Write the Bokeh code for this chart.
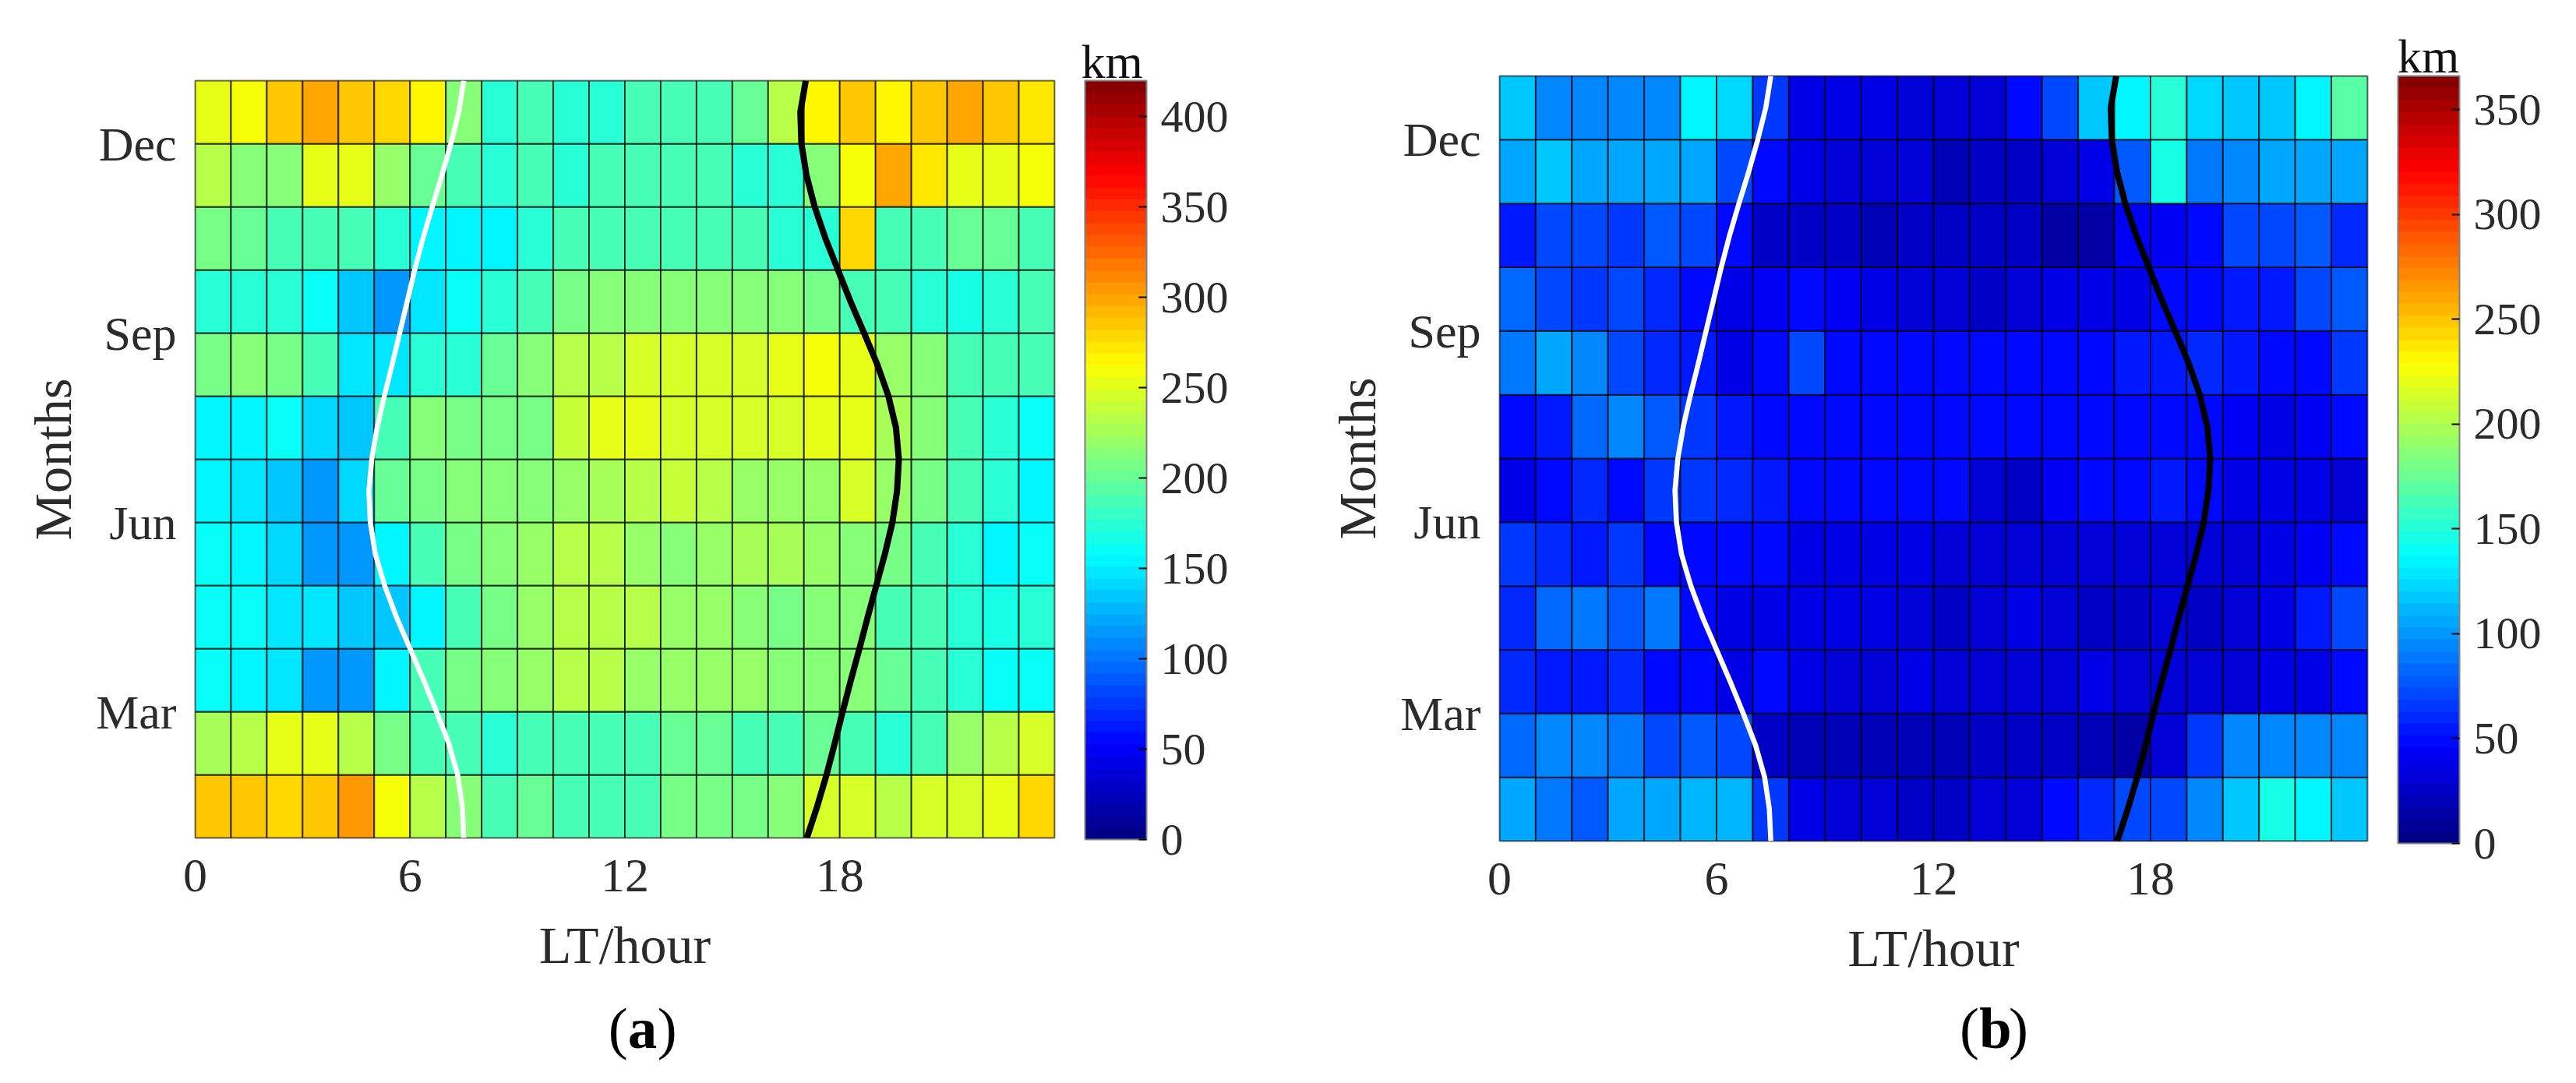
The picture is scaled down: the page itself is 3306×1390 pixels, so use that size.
from bokeh.embed import file_html
from bokeh.resources import INLINE
from bokeh.plotting import figure
from bokeh.layouts import row
from bokeh.core.properties import value
from bokeh.models import (ColumnDataSource, LinearColorMapper, ColorBar, FixedTicker,
                          Label, Range1d)

x_ticks = [0, 6, 12, 18]
y_ticks = [2, 5, 8, 11]
y_tick_labels = ["Mar", "Jun", "Sep", "Dec"]
x_title = "LT/hour"
y_title = "Months"
unit = "km"
a_max = 420
b_max = 366
a_bar_ticks = [0, 50, 100, 150, 200, 250, 300, 350, 400]
b_bar_ticks = [0, 50, 100, 150, 200, 250, 300, 350]

# rows from the bottom of the panel (a)
a_m01 = [283,283,278,288,302,262,230,210,190,197,190,184,184,204,204,204,210,243,243,236,243,243,250,277]
a_m02 = [226,230,250,250,230,204,190,184,177,184,190,190,190,197,197,190,190,197,190,177,190,223,236,243]
a_m03 = [163,157,145,118,112,157,184,204,210,223,233,230,223,220,218,223,216,216,210,197,184,177,163,163]
a_m04 = [163,164,150,150,132,135,157,184,204,223,230,230,230,223,220,210,204,216,210,190,184,171,170,171]
a_m05 = [163,157,142,118,112,155,184,204,210,220,236,230,223,216,223,228,228,220,210,204,184,177,157,162]
a_m06 = [153,145,135,112,138,197,204,210,210,210,223,226,236,240,233,223,223,223,243,223,204,190,177,157]
a_m07 = [157,157,164,138,132,184,210,204,204,204,240,250,250,243,243,243,246,250,250,226,210,190,177,162]
a_m08 = [204,210,204,184,145,150,171,171,197,216,230,236,243,243,243,243,250,257,250,223,210,190,184,184]
a_m09 = [177,171,171,164,132,118,145,163,177,190,204,216,210,210,216,210,210,204,190,184,177,170,177,184]
a_m10 = [204,197,184,190,190,171,157,155,155,177,190,184,184,190,184,184,177,177,278,184,190,197,197,190]
a_m11 = [230,216,216,250,250,223,197,184,177,184,177,190,190,184,184,177,177,210,262,297,275,250,250,257]
a_m12 = [250,258,283,297,288,281,269,210,177,184,177,177,184,184,184,197,230,269,283,269,288,297,283,272]

# rows from the bottom of the panel (b)
b_m01 = [103,86,80,106,103,109,109,66,35,32,29,26,26,29,29,46,60,71,74,92,118,143,132,118]
b_m02 = [83,97,97,86,69,80,69,26,20,20,20,20,20,23,26,26,20,15,32,66,92,92,97,92]
b_m03 = [60,54,54,60,46,46,40,46,35,32,32,35,32,32,29,29,35,32,32,32,32,35,40,46]
b_m04 = [60,83,86,80,86,48,37,35,35,40,40,29,26,32,35,29,26,23,32,26,29,40,54,71]
b_m05 = [66,60,57,63,48,46,48,50,37,35,37,35,32,29,29,29,32,32,32,32,32,35,42,46]
b_m06 = [37,46,60,46,63,63,60,54,46,46,46,46,46,32,26,41,46,46,54,46,35,37,35,29]
b_m07 = [46,54,83,92,80,63,54,51,46,48,48,46,46,46,46,46,48,50,50,48,43,37,44,46]
b_m08 = [86,103,92,71,60,54,40,46,69,46,46,46,48,51,46,50,51,57,54,60,52,46,48,66]
b_m09 = [83,71,63,74,60,48,40,44,46,42,35,32,29,26,32,37,40,35,50,46,52,57,71,80]
b_m10 = [57,71,71,66,80,74,46,26,26,26,20,26,23,23,23,15,12,43,44,46,69,71,77,60]
b_m11 = [106,118,106,103,103,106,74,46,35,29,32,29,20,23,26,32,37,77,143,86,97,103,106,106]
b_m12 = [118,97,95,95,95,137,123,63,40,35,35,32,29,31,46,69,115,137,154,123,115,120,132,166]

curve_y = [0,.5,1,1.5,2,2.5,3,3.5,4,4.5,5,5.5,6,6.5,7,7.5,8,8.5,9,9.5,10,10.5,11,11.5,12]
sunrise = [7.5,7.46,7.33,7.08,6.74,6.38,6.0,5.62,5.29,5.03,4.89,4.85,4.93,5.08,5.28,5.5,5.71,5.92,6.13,6.36,6.62,6.89,7.14,7.36,7.5]
sunset = [17.08,17.37,17.63,17.86,18.08,18.31,18.55,18.78,19.02,19.26,19.47,19.6,19.65,19.57,19.36,19.05,18.68,18.3,17.95,17.6,17.3,17.07,16.93,16.9,17.05]

A_ROWS = [a_m01,a_m02,a_m03,a_m04,a_m05,a_m06,a_m07,a_m08,a_m09,a_m10,a_m11,a_m12]
B_ROWS = [b_m01,b_m02,b_m03,b_m04,b_m05,b_m06,b_m07,b_m08,b_m09,b_m10,b_m11,b_m12]

SERIF = "Liberation Serif"
TEXT = "#2b2b2b"


def jet(n=64):
    out = []
    for i in range(n):
        f = (i + 0.5) / n
        r = min(4 * f - 1.5, -4 * f + 4.5)
        g = min(4 * f - 0.5, -4 * f + 3.5)
        b = min(4 * f + 0.5, -4 * f + 2.5)
        c = [int(round(255 * max(0, min(1, v)))) for v in (r, g, b)]
        out.append("#%02x%02x%02x" % tuple(c))
    return out


def panel(rows, vmax, bar_ticks, width, fw, fh, left, top, bot, mtop, bar_x, bar_y, bar_h, tag, tag_x, tag_y, km_x, km_y):
    p = figure(width=width, height=fh + top + bot, output_backend="svg", toolbar_location=None,
               x_range=Range1d(0, 24), y_range=Range1d(0, 12), frame_width=fw, frame_height=fh,
               min_border_left=left, min_border_right=width - left - fw, min_border_top=top,
               min_border_bottom=bot, tools="", background_fill_color="white",
               outline_line_color="#808080", outline_line_width=2, margin=(mtop, 0, 0, 0))
    p.grid.visible = False
    xs0, xs1, ys0, ys1, vs = [], [], [], [], []
    for j, r in enumerate(rows):
        for i, v in enumerate(r):
            xs0.append(i); xs1.append(i + 1); ys0.append(j); ys1.append(j + 1); vs.append(v)
    src = ColumnDataSource(dict(l=xs0, r=xs1, b=ys0, t=ys1, v=vs))
    mapper = LinearColorMapper(palette=jet(), low=0, high=vmax)
    p.quad(left="l", right="r", bottom="b", top="t", source=src,
           fill_color={"field": "v", "transform": mapper},
           line_color="black", line_width=2, line_alpha=0.7)
    p.line(sunrise, curve_y, line_color="white", line_width=6.5, line_join="round")
    p.line(sunset, curve_y, line_color="black", line_width=8, line_join="round")

    p.xaxis.ticker = FixedTicker(ticks=x_ticks)
    p.yaxis.ticker = FixedTicker(ticks=y_ticks)
    p.yaxis.major_label_overrides = dict(zip(y_ticks, y_tick_labels))
    p.xaxis.axis_label = x_title
    p.yaxis.axis_label = y_title
    for ax in (p.xaxis[0], p.yaxis[0]):
        ax.axis_line_color = None
        ax.major_tick_line_color = None
        ax.minor_tick_line_color = None
        ax.major_tick_out = 0
        ax.major_tick_in = 0
        ax.major_label_text_font = SERIF
        ax.major_label_text_font_size = "62px"
        ax.major_label_text_color = TEXT
        ax.axis_label_text_font = SERIF
        ax.axis_label_text_font_size = "68px"
        ax.axis_label_text_font_style = "normal"
        ax.axis_label_text_color = TEXT
    p.xaxis.major_label_standoff = 28
    p.yaxis.major_label_standoff = 24
    p.xaxis.axis_label_standoff = 28
    p.yaxis.axis_label_standoff = 14
    p.yaxis.major_label_orientation = "horizontal"

    cb = ColorBar(color_mapper=mapper, location=(bar_x, bar_y), width=79, height=bar_h,
                  padding=0, margin=0, ticker=FixedTicker(ticks=bar_ticks),
                  major_label_text_font=SERIF, major_label_text_font_size="58px",
                  major_label_text_color=TEXT, label_standoff=18,
                  major_tick_line_color="black", major_tick_line_width=2, major_tick_in=10,
                  minor_tick_line_color=None, bar_line_color="#808080", bar_line_width=2,
                  border_line_color=None, background_fill_color=None)
    p.add_layout(cb, "center")

    step = 24 / fw
    items = [(km_x, km_y, unit, "62px", "normal", "#111111"),
             (tag_x, tag_y, "(", "75px", "normal", "black"),
             (tag_x + 25 * step, tag_y, tag, "75px", "bold", "black"),
             (tag_x + 63 * step, tag_y, ")", "75px", "normal", "black")]
    for x, y, s, size, st, col in items:
        p.text(x=[x], y=[y], text=[s], text_font=value(SERIF), text_font_size=size, text_font_style=st,
               text_color=col, text_baseline="alphabetic", level="overlay")
    return p


pa = panel(A_ROWS, a_max, a_bar_ticks, 1668, 1103, 972, 250, 97, 310, 6, 1142, -2, 974, "a", 11.54, -3.01, 24.74, 12.30)
pb = panel(B_ROWS, b_max, b_bar_ticks, 1632, 1114, 982, 256, 97, 306, 0, 1153, -3, 985, "b", 12.72, -2.93, 24.83, 12.31)

open("out.html", "w").write(file_html(row(pa, pb, spacing=0), INLINE))
